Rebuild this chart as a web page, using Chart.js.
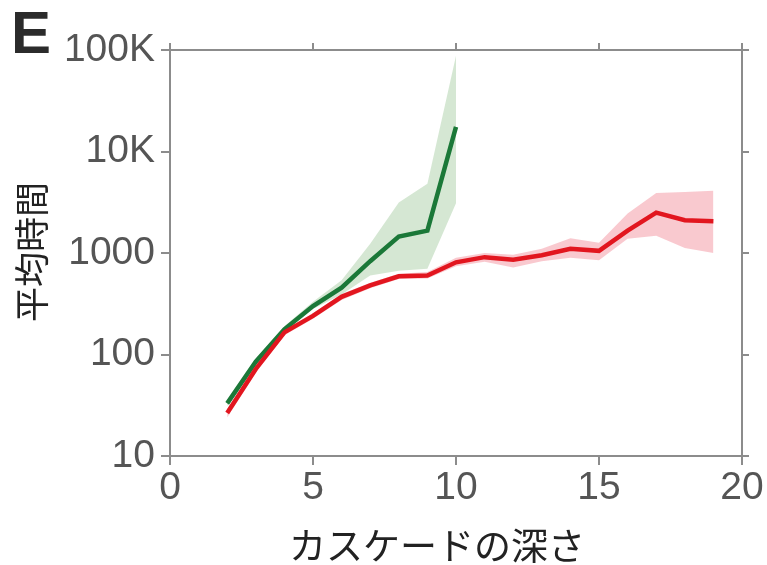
<!DOCTYPE html>
<html lang="ja">
<head>
<meta charset="UTF-8">
<title>カスケードの深さ</title>
<script src="https://cdn.jsdelivr.net/npm/chart.js"></script>
<style>
  * { margin: 0; padding: 0; box-sizing: border-box; }
  body { background: #fff; }
  #wrap { width: 767px; height: 565px; }
</style>
</head>
<body>
<div id="wrap"><canvas id="chart" width="767" height="565"></canvas></div>
<script>
  // depth of the cascade
  const greenDepth = [2, 3, 4, 5, 6, 7, 8, 9, 10];
  const greenMean  = [33, 85, 177, 300, 455, 830, 1450, 1660, 17500];
  const greenLow   = [31, 80, 168, 280, 390, 600, 670, 700, 3100];
  const greenHigh  = [35, 91, 190, 330, 540, 1230, 3150, 4800, 88000];

  const redDepth = [2, 3, 4, 5, 6, 7, 8, 9, 10, 11, 12, 13, 14, 15, 16, 17, 18, 19];
  const redMean  = [26.5, 72, 165, 240, 370, 480, 590, 600, 810, 910, 860, 950, 1100, 1050, 1660, 2500, 2100, 2050];
  const redLow   = [24, 66, 155, 225, 345, 450, 555, 560, 740, 820, 720, 830, 900, 850, 1380, 1480, 1120, 1000];
  const redHigh  = [29, 78, 175, 255, 395, 510, 625, 650, 900, 1000, 960, 1100, 1400, 1260, 2450, 3900, 4000, 4100];

  const yTicks = [10, 100, 1000, 10000, 100000];
  const yTickLabels = ['10', '100', '1000', '10K', '100K'];

  const pts = (xs, ys) => xs.map((x, i) => ({ x: x, y: ys[i] }));

  const axisGrey = '#8c8c8c';
  const tickFont = { family: "'Liberation Sans', Arial, sans-serif", size: 39 };

  const band = (data, color, fill, order) => ({
    data: data,
    borderWidth: 0,
    pointRadius: 0,
    backgroundColor: color,
    fill: fill,
    order: order
  });

  const line = (data, color, order) => ({
    data: data,
    borderColor: color,
    borderWidth: 4.5,
    pointRadius: 0,
    fill: false,
    order: order
  });

  const logTicks = scale => { scale.ticks = yTicks.map(v => ({ value: v })); };

  const textPlugin = {
    id: 'texts',
    afterDraw(chart) {
      const ctx = chart.ctx;
      ctx.save();
      ctx.fillStyle = '#2b2b2b';
      ctx.font = "bold 60px 'Liberation Sans Narrow', 'Liberation Sans', Arial, sans-serif";
      ctx.textAlign = 'left';
      ctx.textBaseline = 'alphabetic';
      ctx.fillText('E', 11, 53);

      ctx.fillStyle = '#222';
      ctx.font = "37px 'Noto Sans CJK JP', sans-serif";
      ctx.textAlign = 'center';
      ctx.textBaseline = 'middle';
      ctx.fillText('カスケードの深さ', 437, 546);

      ctx.font = "35px 'Noto Sans CJK JP', sans-serif";
      ctx.translate(32, 252);
      ctx.rotate(-Math.PI / 2);
      ctx.fillText('平均時間', 0, 0);
      ctx.restore();
    }
  };

  new Chart(document.getElementById('chart'), {
    type: 'line',
    data: {
      datasets: [
        band(pts(greenDepth, greenHigh), 'rgba(150, 195, 145, 0.4)', false, 5),
        band(pts(greenDepth, greenLow), 'rgba(150, 195, 145, 0.4)', '-1', 5),
        band(pts(redDepth, redHigh), 'rgba(240, 120, 135, 0.4)', false, 4),
        band(pts(redDepth, redLow), 'rgba(240, 120, 135, 0.4)', '-1', 4),
        line(pts(greenDepth, greenMean), '#1b7838', 1),
        line(pts(redDepth, redMean), '#e2161f', 0)
      ]
    },
    options: {
      responsive: false,
      animation: false,
      layout: { padding: 0 },
      plugins: { legend: { display: false }, tooltip: { enabled: false } },
      scales: {
        x: {
          type: 'linear', position: 'bottom', min: 0, max: 20,
          ticks: { stepSize: 5, font: tickFont, color: '#555', padding: 0 },
          grid: { drawOnChartArea: false, tickLength: 9, color: axisGrey, lineWidth: 2 },
          border: { color: axisGrey, width: 2 },
          afterFit: s => { s.height = 109; }
        },
        x2: {
          type: 'linear', position: 'top', min: 0, max: 20,
          ticks: { stepSize: 5, display: false },
          grid: { drawOnChartArea: false, tickLength: 7, color: axisGrey, lineWidth: 2 },
          border: { color: axisGrey, width: 2 },
          afterFit: s => { s.height = 50; }
        },
        y: {
          type: 'logarithmic', position: 'left', min: 10, max: 100000,
          afterBuildTicks: logTicks,
          ticks: {
            font: tickFont, color: '#555', padding: 6,
            callback: v => yTickLabels[yTicks.indexOf(v)]
          },
          grid: { drawOnChartArea: false, tickLength: 9, color: axisGrey, lineWidth: 2 },
          border: { color: axisGrey, width: 2 },
          afterFit: s => { s.width = 170; }
        },
        y2: {
          type: 'logarithmic', position: 'right', min: 10, max: 100000,
          afterBuildTicks: logTicks,
          ticks: { display: false },
          grid: { drawOnChartArea: false, tickLength: 7, color: axisGrey, lineWidth: 2 },
          border: { color: axisGrey, width: 2 },
          afterFit: s => { s.width = 25; }
        }
      }
    },
    plugins: [textPlugin]
  });
</script>
</body>
</html>
